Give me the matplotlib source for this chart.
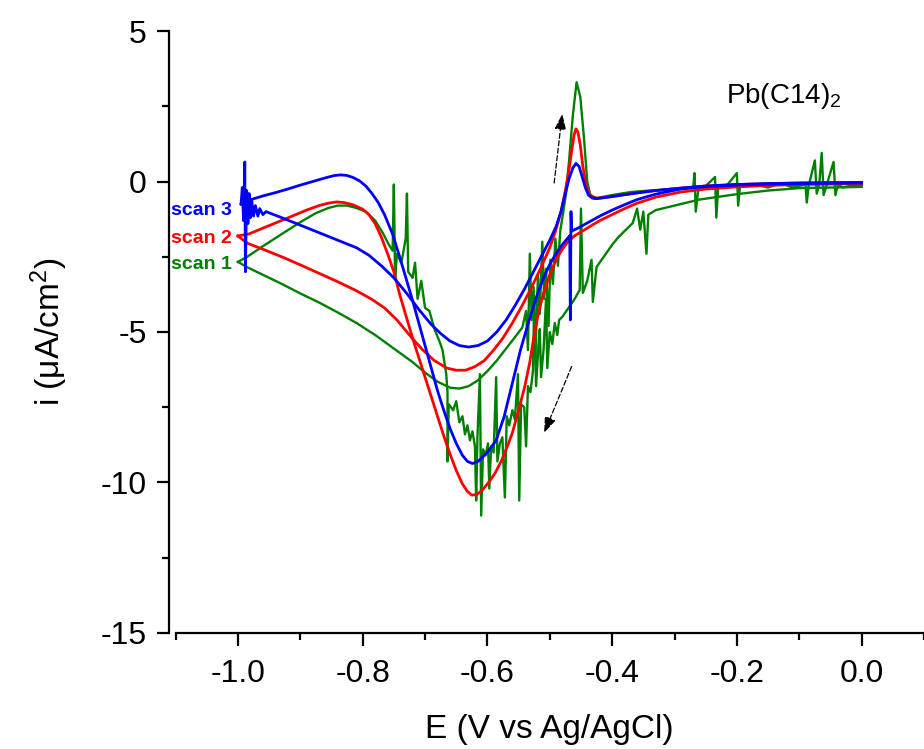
import matplotlib
matplotlib.use("Agg")
import matplotlib.pyplot as plt
from matplotlib.ticker import MultipleLocator

plt.rcParams['font.family'] = ['Liberation Sans', 'DejaVu Sans']
plt.rcParams['mathtext.default'] = 'regular'
plt.rcParams['axes.unicode_minus'] = False

# ---- data (E in V vs Ag/AgCl, i in uA/cm2) ----
# each scan: branch "b" = lower arm from -1.0 V through the anodic peak to 0 V,
#            branch "a" = upper arm from -1.0 V through the big cathodic wave to 0 V

# scan 3 (blue)
s3_b_E = [-0.995, -0.993, -0.991, -0.989, -0.988, -0.986, -0.984, -0.982, -0.980, -0.978,
          -0.975, -0.972, -0.968, -0.965, -0.960, -0.955, -0.93, -0.90, -0.87, -0.84,
          -0.81, -0.79, -0.77, -0.75, -0.73, -0.71, -0.69, -0.675, -0.66, -0.645,
          -0.63, -0.615, -0.60, -0.585, -0.57, -0.555, -0.54, -0.525, -0.51, -0.50,
          -0.49, -0.482, -0.475, -0.469, -0.463, -0.458, -0.453, -0.448, -0.443, -0.438,
          -0.432, -0.425, -0.41, -0.39, -0.36, -0.33, -0.29, -0.25, -0.2, -0.15,
          -0.1, 0.0]
s3_b_i = [-0.75, -0.2, -1.3, 0.65, -3.0, -0.3, -1.4, -0.4, -1.2, -0.6,
          -1.15, -0.8, -1.15, -0.9, -1.1, -1.0, -1.2, -1.45, -1.7, -1.95,
          -2.2, -2.45, -2.8, -3.2, -3.7, -4.25, -4.75, -5.05, -5.3, -5.45,
          -5.5, -5.45, -5.3, -5.0, -4.6, -4.1, -3.55, -2.95, -2.35, -1.95,
          -1.5, -1.0, -0.4, 0.1, 0.45, 0.6, 0.5, 0.15, -0.2, -0.45,
          -0.55, -0.57, -0.53, -0.47, -0.38, -0.3, -0.22, -0.15, -0.1, -0.07,
          -0.05, -0.03]
s3_a_E = [-0.995, -0.979, -0.96, -0.94, -0.92, -0.90, -0.88, -0.86, -0.845, -0.835,
          -0.825, -0.815, -0.805, -0.795, -0.785, -0.775, -0.765, -0.752, -0.74, -0.73,
          -0.72, -0.71, -0.70, -0.69, -0.68, -0.67, -0.66, -0.65, -0.64, -0.632,
          -0.624, -0.615, -0.60, -0.586, -0.573, -0.56, -0.547, -0.533, -0.52, -0.51,
          -0.50, -0.49, -0.48, -0.47, -0.468, -0.467, -0.466, -0.465, -0.455, -0.44,
          -0.42, -0.40, -0.38, -0.36, -0.33, -0.29, -0.25, -0.2, -0.15, -0.1,
          0.0]
s3_a_i = [-0.75, -0.6, -0.48, -0.37, -0.25, -0.12, 0.0, 0.12, 0.2, 0.22,
          0.2, 0.13, 0.02, -0.15, -0.4, -0.7, -1.1, -1.75, -2.55, -3.25,
          -3.95, -4.7, -5.45, -6.2, -6.95, -7.6, -8.2, -8.7, -9.1, -9.3,
          -9.37, -9.3, -9.0, -8.6, -7.8, -6.7, -5.6, -4.6, -3.75, -3.2,
          -2.75, -2.4, -2.1, -1.85, -1.8, -4.6, -1.0, -1.65, -1.55, -1.38,
          -1.15, -0.95, -0.77, -0.6, -0.42, -0.25, -0.17, -0.12, -0.09, -0.07,
          -0.05]

# scan 2 (red)
s2_b_E = [-1.0, -0.985, -0.96, -0.93, -0.90, -0.87, -0.84, -0.81, -0.785, -0.765,
          -0.745, -0.725, -0.705, -0.685, -0.665, -0.65, -0.635, -0.62, -0.605, -0.59,
          -0.575, -0.56, -0.545, -0.53, -0.515, -0.50, -0.49, -0.482, -0.475, -0.47,
          -0.465, -0.461, -0.458, -0.455, -0.451, -0.447, -0.442, -0.437, -0.43, -0.42,
          -0.40, -0.37, -0.33, -0.29, -0.25, -0.2, -0.15, -0.1, 0.0]
s2_b_i = [-1.81, -2.05, -2.25, -2.5, -2.77, -3.05, -3.33, -3.63, -3.92, -4.2,
          -4.6, -5.1, -5.57, -5.95, -6.2, -6.27, -6.27, -6.15, -5.95, -5.6,
          -5.2, -4.7, -4.15, -3.55, -2.9, -2.2, -1.6, -1.0, -0.3, 0.3,
          1.0, 1.55, 1.75, 1.65, 1.2, 0.5, -0.1, -0.4, -0.55, -0.55,
          -0.5, -0.4, -0.3, -0.22, -0.15, -0.1, -0.07, -0.05, -0.03]
s2_a_E = [-1.0, -0.982, -0.96, -0.94, -0.913, -0.89, -0.87, -0.855, -0.842, -0.83,
          -0.815, -0.80, -0.79, -0.78, -0.77, -0.76, -0.75, -0.74, -0.73, -0.72,
          -0.71, -0.70, -0.69, -0.68, -0.67, -0.66, -0.65, -0.64, -0.632, -0.625,
          -0.617, -0.608, -0.598, -0.588, -0.578, -0.568, -0.56, -0.55, -0.54, -0.532,
          -0.525, -0.518, -0.51, -0.50, -0.49, -0.48, -0.47, -0.46, -0.44, -0.42,
          -0.40, -0.38, -0.36, -0.33, -0.29, -0.25, -0.2, -0.15, -0.1, 0.0]
s2_a_i = [-1.81, -1.74, -1.55, -1.38, -1.15, -0.95, -0.8, -0.72, -0.68, -0.7,
          -0.78, -0.92, -1.1, -1.4, -1.85, -2.4, -3.0, -3.8, -4.5, -5.2,
          -5.85, -6.5, -7.15, -7.8, -8.45, -9.05, -9.6, -10.05, -10.3, -10.42,
          -10.4, -10.25, -10.0, -9.7, -9.3, -8.8, -8.35, -7.6, -6.8, -6.0,
          -5.1, -4.35, -3.7, -3.1, -2.6, -2.25, -1.98, -1.8, -1.55, -1.3,
          -1.1, -0.9, -0.72, -0.52, -0.35, -0.25, -0.18, -0.13, -0.1, -0.07]

# scan 1 (green, noisy)
s1_b_E = [-1.0, -0.985, -0.96, -0.93, -0.90, -0.87, -0.84, -0.81, -0.78, -0.75,
          -0.72, -0.70, -0.68, -0.66, -0.645, -0.63, -0.615, -0.60, -0.585, -0.57,
          -0.555, -0.544, -0.538, -0.535, -0.532, -0.529, -0.526, -0.523, -0.519, -0.516,
          -0.512, -0.509, -0.506, -0.502, -0.499, -0.495, -0.491, -0.487, -0.483, -0.479,
          -0.474, -0.469, -0.463, -0.457, -0.451, -0.445, -0.44, -0.435, -0.425, -0.40,
          -0.37, -0.34, -0.30, -0.27, -0.268, -0.266, -0.262, -0.25, -0.235, -0.233,
          -0.23, -0.215, -0.2, -0.198, -0.195, -0.17, -0.15, -0.13, -0.11, -0.09,
          -0.088, -0.085, -0.075, -0.072, -0.068, -0.064, -0.061, -0.055, -0.045, -0.042,
          -0.038, -0.03, -0.02, 0.0]
s1_b_i = [-2.67, -2.85, -3.1, -3.4, -3.72, -4.02, -4.35, -4.7, -5.1, -5.55,
          -6.0, -6.35, -6.65, -6.85, -6.88, -6.8, -6.6, -6.3, -5.95, -5.55,
          -5.15, -4.85, -4.3, -5.6, -2.4, -4.6, -3.5, -5.8, -3.1, -4.4,
          -2.0, -3.9, -2.9, -4.8, -2.6, -3.4, -1.9, -2.8, -1.6, -1.1,
          -0.4, 0.7, 2.2, 3.3, 2.8, 1.4, 0.0, -0.45, -0.55, -0.45,
          -0.35, -0.3, -0.25, -0.2, 0.28, -1.0, -0.3, -0.15, 0.15, -1.2,
          -0.2, -0.1, 0.28, -0.8, -0.15, -0.1, -0.2, -0.05, -0.2, -0.1,
          -0.7, -0.15, 0.7, -0.4, -0.1, 0.95, -0.45, -0.05, 0.65, -0.45,
          -0.1, -0.2, -0.15, -0.15]
s1_a_E = [-1.0, -0.985, -0.96, -0.93, -0.90, -0.875, -0.855, -0.84, -0.825, -0.81,
          -0.795, -0.78, -0.768, -0.758, -0.752, -0.750, -0.748, -0.745, -0.738, -0.731,
          -0.729, -0.727, -0.72, -0.716, -0.712, -0.706, -0.70, -0.693, -0.685, -0.677,
          -0.672, -0.666, -0.664, -0.664, -0.662, -0.655, -0.65, -0.645, -0.64, -0.636,
          -0.632, -0.628, -0.624, -0.62, -0.618, -0.616, -0.612, -0.61, -0.607, -0.603,
          -0.599, -0.597, -0.594, -0.59, -0.586, -0.584, -0.58, -0.576, -0.572, -0.569,
          -0.565, -0.56, -0.556, -0.551, -0.549, -0.546, -0.541, -0.538, -0.535, -0.531,
          -0.527, -0.525, -0.522, -0.518, -0.516, -0.514, -0.51, -0.506, -0.504, -0.50,
          -0.496, -0.492, -0.488, -0.485, -0.48, -0.47, -0.46, -0.452, -0.450, -0.447,
          -0.44, -0.433, -0.431, -0.425, -0.41, -0.40, -0.39, -0.367, -0.36, -0.355,
          -0.35, -0.345, -0.342, -0.33, -0.30, -0.26, -0.2, -0.15, -0.1, 0.0]
s1_a_i = [-2.67, -2.5, -2.15, -1.75, -1.35, -1.05, -0.88, -0.8, -0.8, -0.88,
          -1.0, -1.3, -1.7, -2.1, -2.3, -0.1, -3.2, -2.4, -2.7, -1.9,
          -0.4, -3.0, -3.2, -2.7, -3.9, -3.3, -4.2, -4.3, -4.9, -5.3,
          -5.6, -6.4, -7.0, -9.3, -7.4, -7.6, -7.3, -8.0, -7.8, -8.4,
          -8.1, -8.6, -8.3, -8.8, -10.6, -8.5, -6.4, -11.1, -8.9, -9.1,
          -8.7, -10.2, -8.8, -9.0, -6.5, -9.3, -8.7, -8.5, -10.5, -7.8,
          -8.1, -7.6, -7.9, -6.4, -10.6, -7.4, -7.5, -8.8, -6.8, -7.0,
          -6.3, -3.9, -6.8, -5.4, -4.9, -6.5, -5.6, -3.9, -6.2, -5.0,
          -5.4, -4.7, -5.1, -4.6, -4.5, -4.2, -3.9, -3.6, -0.9, -3.7,
          -3.3, -2.6, -4.0, -2.84, -2.4, -2.1, -1.85, -1.38, -0.9, -1.6,
          -1.0, -2.4, -1.1, -0.95, -0.8, -0.6, -0.42, -0.3, -0.22, -0.18]

scan_labels = ['scan 3', 'scan 2', 'scan 1']
label_i = [-0.95, -1.88, -2.77]
colors = ['#0000ff', '#ff0000', '#008000']

# ---- figure ----
fig = plt.figure(figsize=(9.24, 7.49), dpi=100)
ax = fig.add_axes([0.190, 0.1549, 0.810, 0.8037])

lw = 2.0
ax.plot(s1_b_E, s1_b_i, color=colors[2], lw=1.7)
ax.plot(s1_a_E, s1_a_i, color=colors[2], lw=1.7)
ax.plot(s2_b_E, s2_b_i, color=colors[1], lw=lw)
ax.plot(s2_a_E, s2_a_i, color=colors[1], lw=lw)
ax.plot(s3_b_E, s3_b_i, color=colors[0], lw=lw)
ax.plot(s3_a_E, s3_a_i, color=colors[0], lw=lw)

for txt, yy, c in zip(scan_labels, label_i, colors):
    ax.text(-1.107, yy, txt, color=c, fontsize=14, fontweight='bold',
            ha='left', va='center', clip_on=False)

# scan direction arrows
arrow_kw = dict(arrowstyle='-|>,head_length=0.6,head_width=0.22', linestyle=(0, (4, 2)),
                color='black', lw=0.9, mutation_scale=16, shrinkA=0, shrinkB=0)
ax.annotate('', xy=(-0.480, 2.25), xytext=(-0.493, -0.05), arrowprops=arrow_kw)
ax.annotate('', xy=(-0.509, -8.35), xytext=(-0.465, -6.15), arrowprops=arrow_kw)

ax.text(-0.217, 2.6, 'Pb(C14)$_2$', fontsize=20, ha='left', va='baseline')

ax.set_xlim(-1.1, 0.1)
ax.set_ylim(-15, 5)
ax.xaxis.set_major_locator(MultipleLocator(0.2))
ax.xaxis.set_minor_locator(MultipleLocator(0.1))
ax.yaxis.set_major_locator(MultipleLocator(5))
ax.yaxis.set_minor_locator(MultipleLocator(2.5))
ax.xaxis.set_major_formatter(plt.FuncFormatter(lambda v, p: f'{v:.1f}'.replace('-0.0', '0.0')))

for side in ['top', 'right']:
    ax.spines[side].set_visible(False)
ax.spines['left'].set_position(('outward', 4.75))
ax.spines['left'].set_linewidth(1.6)
ax.spines['bottom'].set_linewidth(1.6)

ax.tick_params(which='major', direction='out', length=9, width=1.6, labelsize=23, pad=7)
ax.tick_params(which='minor', direction='out', length=5, width=1.6)
ax.tick_params(axis='x', which='major', pad=10)

ax.set_xlabel('E (V vs Ag/AgCl)', fontsize=24, labelpad=18)
ax.set_ylabel('i (\u03bcA/cm$^2$)', fontsize=24, labelpad=22)

fig.savefig('out.png', dpi=100)
